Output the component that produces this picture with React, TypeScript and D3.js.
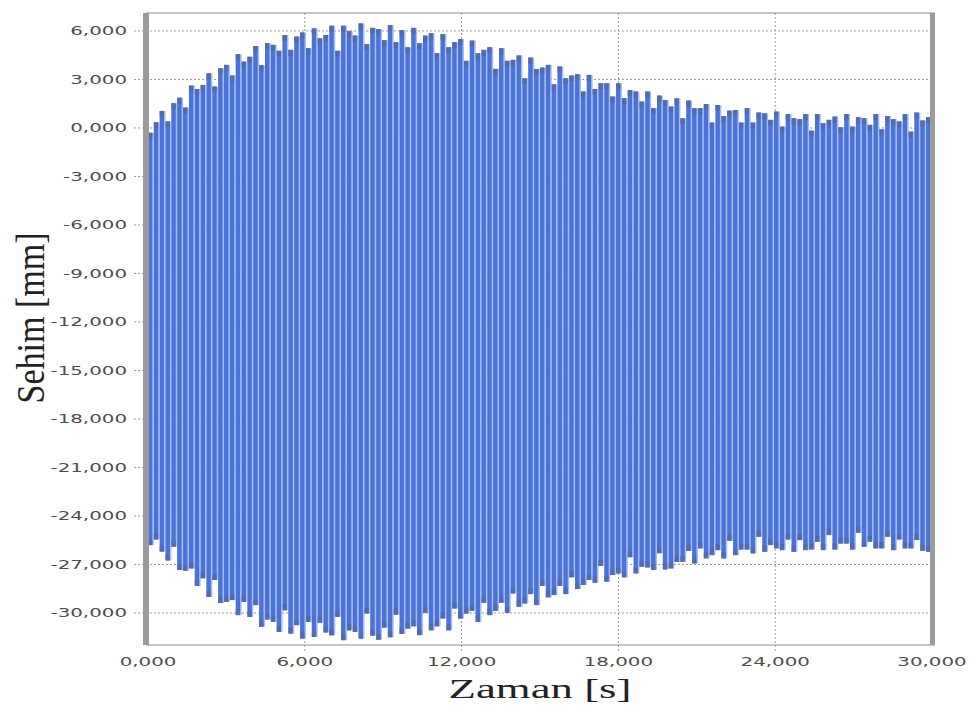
import * as d3 from 'd3';

// Sehim (deflection) vs time, one value pair per oscillation cycle
const X_TICKS = [0, 6, 12, 18, 24, 30];
const Y_TICKS = [6, 3, 0, -3, -6, -9, -12, -15, -18, -21, -24, -27, -30];
const T_END = 30;

// upper envelope: peak of each cycle [mm]
const PEAKS = [
  -0.30, 0.35, 1.05, 0.40, 1.53, 1.87, 1.26, 2.62, 2.41, 2.66, 3.38, 2.56, 3.69, 3.90, 3.24,
  4.56, 4.10, 4.40, 5.07, 3.88, 5.24, 5.14, 4.77, 5.75, 4.83, 5.65, 5.90, 4.93, 6.15, 5.54,
  5.75, 6.32, 4.77, 6.32, 6.00, 5.71, 6.46, 5.18, 6.19, 6.11, 5.43, 6.36, 5.30, 6.05,
  4.99, 6.19, 5.24, 5.71, 5.85, 4.62, 5.80, 4.99, 5.30, 5.50, 4.15, 5.40, 4.62, 4.83, 4.99,
  3.65, 4.93, 4.15, 4.21, 4.48, 3.07, 4.35, 3.65, 3.73, 3.90, 2.70, 3.80, 3.07, 3.24, 3.32,
  2.25, 3.28, 2.41, 2.76, 2.76, 1.94, 2.76, 1.84, 2.35, 2.25, 1.63, 2.25, 1.22, 2.00, 1.73,
  1.32, 1.83, 0.60, 1.69, 1.22, 1.22, 1.48, 0.33, 1.42, 0.74, 1.07, 1.11, 0.33, 1.22, 0.33,
  0.95, 0.90, 0.50, 1.01, 0.08, 0.86, 0.60, 0.54, 0.86, -0.17, 0.86, 0.29, 0.50, 0.70, 0.04,
  0.86, 0.08, 0.66, 0.60, 0.19, 0.86, -0.09, 0.74, 0.54, 0.40, 0.86, -0.23, 0.95, 0.46, 0.66,
];

// lower envelope: trough of each cycle [mm]
const TROUGHS = [
  -25.80, -25.45, -26.20, -26.75, -25.90, -27.34, -27.38, -27.24, -28.33, -27.85, -29.00,
  -27.96, -29.37, -29.31, -29.20, -30.13, -29.31, -30.24, -29.51, -30.85, -30.40, -30.55,
  -31.17, -29.83, -31.27, -30.75, -31.58, -30.55, -31.48, -30.60, -31.20, -31.38, -30.24,
  -31.68, -31.07, -31.17, -31.58, -30.03, -31.40, -31.65, -30.90, -31.50, -30.10, -31.30,
  -30.96, -30.82, -31.37, -29.99, -31.07, -30.82, -30.34, -31.07, -29.72, -30.34, -30.03,
  -29.86, -30.55, -29.37, -30.13, -29.86, -29.37, -29.99, -28.79, -29.61, -29.41, -28.83,
  -29.51, -28.33, -29.03, -28.89, -28.33, -28.83, -27.79, -28.52, -28.27, -27.96, -28.12,
  -27.09, -28.06, -27.65, -27.55, -27.79, -26.55, -27.55, -27.14, -27.18, -27.34, -26.30,
  -27.30,
  -27.24, -26.83, -26.83, -26.15, -26.93, -26.00, -26.62, -26.42, -26.11, -26.62, -25.53,
  -26.42, -26.07, -26.07, -26.31, -25.28, -26.21, -25.80, -26.00, -26.11, -25.45, -26.21,
  -25.49, -26.11, -26.07, -25.59, -26.11, -25.18, -26.07, -25.70, -25.70, -26.07, -25.04,
  -25.90, -25.59, -26.00, -26.00, -25.28, -26.11, -25.45, -26.00, -26.00, -25.49, -26.15,
  -26.21,
];

const WIDTH = 969;
const HEIGHT = 709;
const PLOT = { left: 148, right: 932, top: 13, bottom: 645 };
const STRETCH = 1.6; // the reference text is drawn wide

const fmt = d3
  .formatLocale({ decimal: ',', thousands: '.', grouping: [3], currency: ['', ''], minus: '-' })
  .format('.3f');

export default function App() {
  const xScale = d3.scaleLinear().domain([0, T_END]).range([PLOT.left, PLOT.right]);
  const yScale = d3.scaleLinear().domain([-31.98, 7.11]).range([PLOT.bottom, PLOT.top]);

  const n = PEAKS.length;
  const dt = T_END / n;
  const step = xScale(dt) - xScale(0);
  const barW = step * 0.74;

  const cycles = PEAKS.map((p, i) => ({ t: i * dt, peak: p, trough: TROUGHS[i] }));

  return (
    <svg
      width={WIDTH}
      height={HEIGHT}
      style={{ position: 'absolute', left: 0, top: 0, background: '#fff' }}
    >
      {/* grid */}
      <g stroke="#9a9a9a" strokeWidth={1} strokeDasharray="2,2">
        {Y_TICKS.map((v) => (
          <line key={v} x1={134} x2={PLOT.right} y1={yScale(v)} y2={yScale(v)} />
        ))}
        {X_TICKS.slice(1, -1).map((v) => (
          <line key={v} x1={xScale(v)} x2={xScale(v)} y1={PLOT.top} y2={PLOT.bottom + 6} />
        ))}
      </g>

      {/* signal, one band per cycle */}
      <g>
        {cycles.map((c, i) => (
          <rect
            key={'l' + i}
            x={xScale(c.t)}
            y={yScale(c.peak)}
            width={step}
            height={yScale(c.trough) - yScale(c.peak)}
            fill="#a3bff2"
          />
        ))}
        {cycles.map((c, i) => (
          <rect
            key={'b' + i}
            x={xScale(c.t)}
            y={yScale(c.peak)}
            width={barW}
            height={yScale(c.trough) - yScale(c.peak)}
            fill="#4a72d8"
          />
        ))}
        {cycles.map((c, i) => (
          <g key={'t' + i} fill="#5568a4" opacity={0.85}>
            <rect x={xScale(c.t)} y={yScale(c.peak)} width={barW} height={6} />
            <rect x={xScale(c.t)} y={yScale(c.trough) - 6} width={barW} height={6} />
          </g>
        ))}
      </g>

      {/* frame */}
      <line x1={PLOT.left - 2} x2={PLOT.right + 3} y1={PLOT.top} y2={PLOT.top} stroke="#8c8c8c" />
      <line x1={PLOT.left - 2} x2={PLOT.right + 3} y1={PLOT.bottom} y2={PLOT.bottom} stroke="#8c8c8c" />
      <rect x={143} y={PLOT.top} width={6} height={PLOT.bottom - PLOT.top} fill="#9b9b9b" />
      <rect x={930} y={PLOT.top} width={5} height={PLOT.bottom - PLOT.top} fill="#9b9b9b" />

      {/* tick labels */}
      <g fontFamily="DejaVu Sans, Verdana, sans-serif" fontSize={12.4} fill="#4d4d4d">
        {Y_TICKS.map((v) => (
          <text
            key={v}
            transform={`translate(127,${yScale(v)}) scale(${STRETCH},1)`}
            textAnchor="end"
            dy="0.36em"
          >
            {fmt(v)}
          </text>
        ))}
        {X_TICKS.map((v) => (
          <text
            key={v}
            transform={`translate(${xScale(v)},666) scale(${STRETCH},1)`}
            textAnchor="middle"
          >
            {fmt(v)}
          </text>
        ))}
      </g>

      {/* axis titles */}
      <g fontFamily="Liberation Serif, Times New Roman, serif" fill="#222">
        <text
          transform={`translate(540,698) scale(${STRETCH},1)`}
          textAnchor="middle"
          fontSize={28}
        >
          Zaman [s]
        </text>
        <text
          transform="translate(44,318) scale(1.2,1) rotate(-90)"
          textAnchor="middle"
          fontSize={34}
        >
          Sehim [mm]
        </text>
      </g>
    </svg>
  );
}
